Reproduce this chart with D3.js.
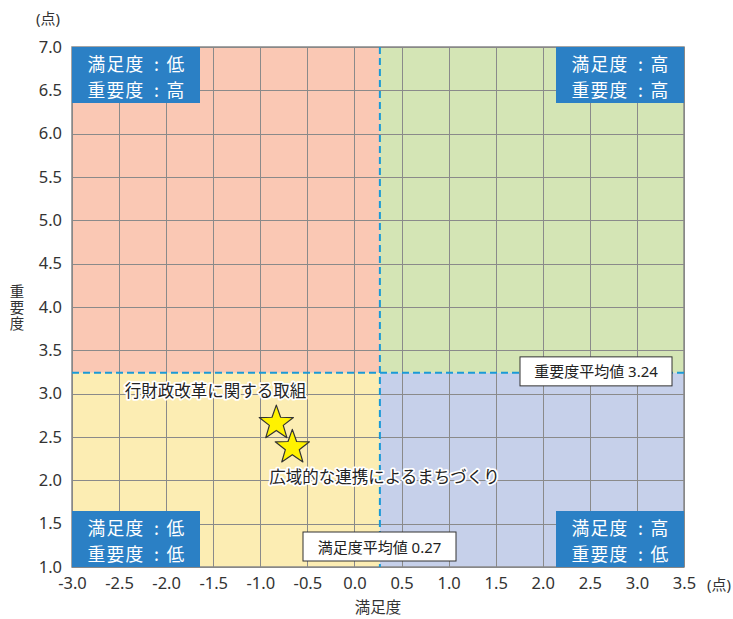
<!DOCTYPE html>
<html>
<head>
<meta charset="utf-8">
<script src="https://cdn.jsdelivr.net/npm/d3@7"></script>
<style>
  html, body { margin: 0; padding: 0; background: #fff; }
  svg { display: block; font-family: "Noto Sans", "Noto Sans CJK JP", sans-serif; }
</style>
</head>
<body>
<svg id="chart" width="733" height="619"></svg>
<script>
// ---- data ----
const xTickValues = [-3.0, -2.5, -2.0, -1.5, -1.0, -0.5, 0.0, 0.5, 1.0, 1.5, 2.0, 2.5, 3.0, 3.5];
const yTickValues = [1.0, 1.5, 2.0, 2.5, 3.0, 3.5, 4.0, 4.5, 5.0, 5.5, 6.0, 6.5, 7.0];
const itemNames = ["行財政改革に関する取組", "広域的な連携によるまちづくり"];
const satisfaction = [-0.83, -0.66];
const importance = [2.66, 2.38];
const satisfactionMean = 0.27;
const importanceMean = 3.24;
const quadrantLabels = [
  [["満足度", "低"], ["重要度", "高"]],
  [["満足度", "高"], ["重要度", "高"]],
  [["満足度", "低"], ["重要度", "低"]],
  [["満足度", "高"], ["重要度", "低"]]
];
const xTitle = "満足度";
const yTitle = "重要度";
const unitLabel = "(点)";

// ---- layout ----
const svg = d3.select("#chart");
const L = 72, R = 684, T = 47, B = 567;
const x = d3.scaleLinear().domain([-3.0, 3.5]).range([L, R]);
const y = d3.scaleLinear().domain([1.0, 7.0]).range([B, T]);
const mx = x(satisfactionMean), my = y(importanceMean);

// quadrants
const quads = [
  {x0: L, x1: mx, y0: T, y1: my, c: "#FAC8B4"},
  {x0: mx, x1: R, y0: T, y1: my, c: "#D4E5B5"},
  {x0: L, x1: mx, y0: my, y1: B, c: "#FCEDB3"},
  {x0: mx, x1: R, y0: my, y1: B, c: "#C6D0EA"}
];
svg.append("g").selectAll("rect").data(quads).join("rect")
  .attr("x", d => d.x0).attr("y", d => d.y0)
  .attr("width", d => d.x1 - d.x0).attr("height", d => d.y1 - d.y0)
  .attr("fill", d => d.c);

// grid
const gridX = d3.range(-3.0, 3.5001, 0.5);
const gridY = d3.range(1.0, 7.0001, 0.5);
const grid = svg.append("g").attr("stroke", "#8a8a8a").attr("stroke-width", 1);
grid.selectAll("line.v").data(gridX).join("line").attr("class", "v")
  .attr("x1", d => Math.round(x(d)) + 0.5).attr("x2", d => Math.round(x(d)) + 0.5)
  .attr("y1", T).attr("y2", B);
grid.selectAll("line.h").data(gridY).join("line").attr("class", "h")
  .attr("y1", d => Math.round(y(d)) + 0.5).attr("y2", d => Math.round(y(d)) + 0.5)
  .attr("x1", L).attr("x2", R);

// border
svg.append("rect").attr("x", L).attr("y", T).attr("width", R - L).attr("height", B - T)
  .attr("fill", "none").attr("stroke", "#888").attr("stroke-width", 1.5);

// mean dashed lines
svg.append("line").attr("x1", mx).attr("x2", mx).attr("y1", T).attr("y2", B)
  .attr("stroke", "#1a9ad6").attr("stroke-width", 2).attr("stroke-dasharray", "7,4");
svg.append("line").attr("x1", L).attr("x2", R).attr("y1", my).attr("y2", my)
  .attr("stroke", "#1a9ad6").attr("stroke-width", 2).attr("stroke-dasharray", "7,4");

// axes tick labels (ASCII hyphen minus like the reference)
const fmt = d => d.toFixed(1);
const xAxis = d3.axisBottom(x).tickValues(xTickValues).tickFormat(fmt).tickSize(0).tickPadding(10);
const gx = svg.append("g").attr("transform", `translate(0,${B})`).call(xAxis);
gx.select(".domain").remove();
gx.selectAll("text").attr("font-size", 16.5).attr("fill", "#333").attr("font-family", "Noto Sans, Noto Sans CJK JP");

const yAxis = d3.axisLeft(y).tickValues(yTickValues).tickFormat(fmt).tickSize(0).tickPadding(10);
const gy = svg.append("g").attr("transform", `translate(${L},0)`).call(yAxis);
gy.select(".domain").remove();
gy.selectAll("text").attr("font-size", 16.5).attr("fill", "#333").attr("font-family", "Noto Sans, Noto Sans CJK JP");

// unit labels
svg.append("text").attr("x", 48).attr("y", 24).attr("text-anchor", "middle")
  .attr("font-size", 15).attr("fill", "#333").text(unitLabel);
svg.append("text").attr("x", 719).attr("y", 590).attr("text-anchor", "middle")
  .attr("font-size", 15).attr("fill", "#333").text(unitLabel);

// axis titles
svg.append("text").attr("x", (L + R) / 2).attr("y", 613).attr("text-anchor", "middle")
  .attr("font-size", 15.5).attr("fill", "#333").text(xTitle);
svg.append("text").attr("x", 17).attr("y", 284)
  .style("writing-mode", "vertical-rl").style("text-orientation", "upright")
  .attr("font-size", 14.5).attr("fill", "#333").attr("font-family", "Noto Sans CJK JP")
  .attr("letter-spacing", 1.5)
  .text(yTitle);

// quadrant label boxes
const bw = 128, bh = 56;
const boxes = [
  {x: L, y: T},
  {x: R - bw, y: T},
  {x: L, y: B - bh},
  {x: R - bw, y: B - bh}
];
const qb = svg.append("g").attr("font-size", 17.8).attr("fill", "#fff").attr("font-family", "Noto Sans CJK JP");
boxes.forEach((b, i) => {
  qb.append("rect").attr("x", b.x).attr("y", b.y).attr("width", bw).attr("height", bh).attr("fill", "#2B80C5");
  quadrantLabels[i].forEach((pair, j) => {
    const cy = b.y + 16 + j * 26;
    const t = qb.append("text").attr("dominant-baseline", "central");
    t.append("tspan").attr("x", b.x + 15.5).attr("y", cy).attr("letter-spacing", 1.2).text(pair[0]);
    t.append("tspan").attr("x", b.x + 82).attr("y", cy).attr("letter-spacing", 0).text(":");
    t.append("tspan").attr("x", b.x + 94.5).attr("y", cy).attr("letter-spacing", 0).text(pair[1]);
  });
});

// mean label boxes
function meanBox(cx, cy, w, h, txt) {
  svg.append("rect").attr("x", cx - w / 2).attr("y", cy - h / 2).attr("width", w).attr("height", h)
    .attr("fill", "#fff").attr("stroke", "#333").attr("stroke-width", 1);
  svg.append("text").attr("x", cx).attr("y", cy).attr("text-anchor", "middle").attr("dominant-baseline", "central")
    .attr("font-size", 15).attr("fill", "#222").text(txt);
}
meanBox(596, my - 1.5, 152, 29, "重要度平均値 " + importanceMean.toFixed(2));
meanBox(379.5, 546.5, 153, 29, "満足度平均値 " + satisfactionMean.toFixed(2));

// stars
function starPath(r1, r2) {
  const pts = [];
  for (let i = 0; i < 10; i++) {
    const a = -Math.PI / 2 + i * Math.PI / 5;
    const r = i % 2 === 0 ? r1 : r2;
    pts.push([r * Math.cos(a), r * Math.sin(a)]);
  }
  return "M" + pts.map(p => p.join(",")).join("L") + "Z";
}
const pts = itemNames.map((n, i) => ({name: n, sx: satisfaction[i], iy: importance[i]}));
svg.append("g").selectAll("path").data(pts).join("path")
  .attr("d", starPath(18, 7.3))
  .attr("transform", d => `translate(${x(d.sx)},${y(d.iy)})`)
  .attr("fill", "#FFF200").attr("stroke", "#333").attr("stroke-width", 1.2).attr("stroke-linejoin", "round");

// point labels
const labelPos = [
  {dx: 30, dy: -33, anchor: "end"},
  {dx: -23, dy: 29, anchor: "start"}
];
svg.append("g").selectAll("text").data(pts).join("text")
  .attr("x", (d, i) => x(d.sx) + labelPos[i].dx)
  .attr("y", (d, i) => y(d.iy) + labelPos[i].dy)
  .attr("text-anchor", (d, i) => labelPos[i].anchor)
  .attr("dominant-baseline", "central")
  .attr("font-size", 16.5).attr("fill", "#222").attr("font-family", "Noto Sans CJK JP")
  .attr("stroke", "#fff").attr("stroke-width", 3.5).attr("stroke-linejoin", "round")
  .attr("paint-order", "stroke")
  .text(d => d.name);
</script>
</body>
</html>
